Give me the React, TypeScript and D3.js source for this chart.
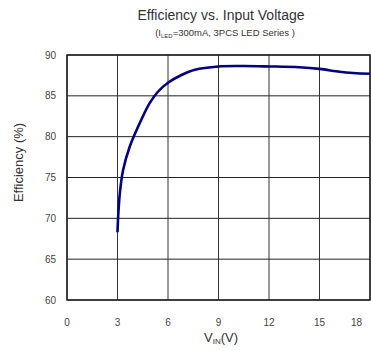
import React from "react";
import * as d3 from "d3";

const voltage = [3, 3.05, 3.14, 3.33, 3.73, 4.42, 4.91, 5.4, 6, 6.8, 7.6, 9, 10.5, 12, 13.8, 15, 16.2, 17, 18];
const efficiency = [68.3, 70.6, 73.1, 75.9, 78.8, 82.1, 84.1, 85.5, 86.6, 87.55, 88.2, 88.6, 88.65, 88.6, 88.5, 88.3, 87.95, 87.8, 87.7];
const xTicks = [0, 3, 6, 9, 12, 15, 18];
const yTicks = [60, 65, 70, 75, 80, 85, 90];

export default function App() {
  const W = 371, H = 350;
  const left = 67, right = 370, top = 55, bottom = 300;
  const x = d3.scaleLinear().domain([0, 18]).range([left, right]);
  const y = d3.scaleLinear().domain([60, 90]).range([bottom, top]);
  const pts = voltage.map((v, i) => [v, efficiency[i]] as [number, number]);
  const line = d3.line<[number, number]>().x(d => x(d[0])).y(d => y(d[1])).curve(d3.curveCatmullRom.alpha(0.5));
  const font = "Liberation Sans, Arial, sans-serif";
  return (
    <svg width={W} height={H} style={{ position: "absolute", left: 0, top: 0 }} fontFamily={font}>
      <rect width={W} height={H} fill="#fff" />
      <text x={221} y={20} textAnchor="middle" fontSize={14} fill="#333">Efficiency vs. Input Voltage</text>
      <text x={225} y={36} textAnchor="middle" fontSize={9.5} fill="#333">
        (I<tspan fontSize={6} dy={2}>LED</tspan><tspan dy={-2}>=300mA, 3PCS LED Series )</tspan>
      </text>
      {yTicks.map(t => (
        <g key={"y" + t}>
          <line x1={left} x2={right} y1={y(t)} y2={y(t)} stroke="#222" strokeWidth={1} />
          <text x={56} y={y(t) + 3.5} textAnchor="end" fontSize={10} fill="#444">{t}</text>
        </g>
      ))}
      {xTicks.map((t, i) => (
        <g key={"x" + t}>
          <line x1={x(t)} x2={x(t)} y1={top} y2={bottom} stroke="#333" strokeWidth={1} />
          <text x={i === xTicks.length - 1 ? 362 : x(t)} y={326} textAnchor={i === xTicks.length - 1 ? "end" : "middle"} fontSize={10} fill="#444">{t}</text>
        </g>
      ))}
      <rect x={left} y={top} width={right - left} height={bottom - top} fill="none" stroke="#222" strokeWidth={1.5} />
      <path d={line(pts) || ""} fill="none" stroke="#000080" strokeWidth={2.6} />
      <text transform={`translate(23,${(top + bottom) / 2 - 15}) rotate(-90)`} textAnchor="middle" fontSize={13} fill="#333">Efficiency (%)</text>
      <text x={221} y={342} textAnchor="middle" fontSize={13} fill="#333">
        V<tspan fontSize={8} dy={2}>IN</tspan><tspan dy={-2}>(V)</tspan>
      </text>
    </svg>
  );
}
